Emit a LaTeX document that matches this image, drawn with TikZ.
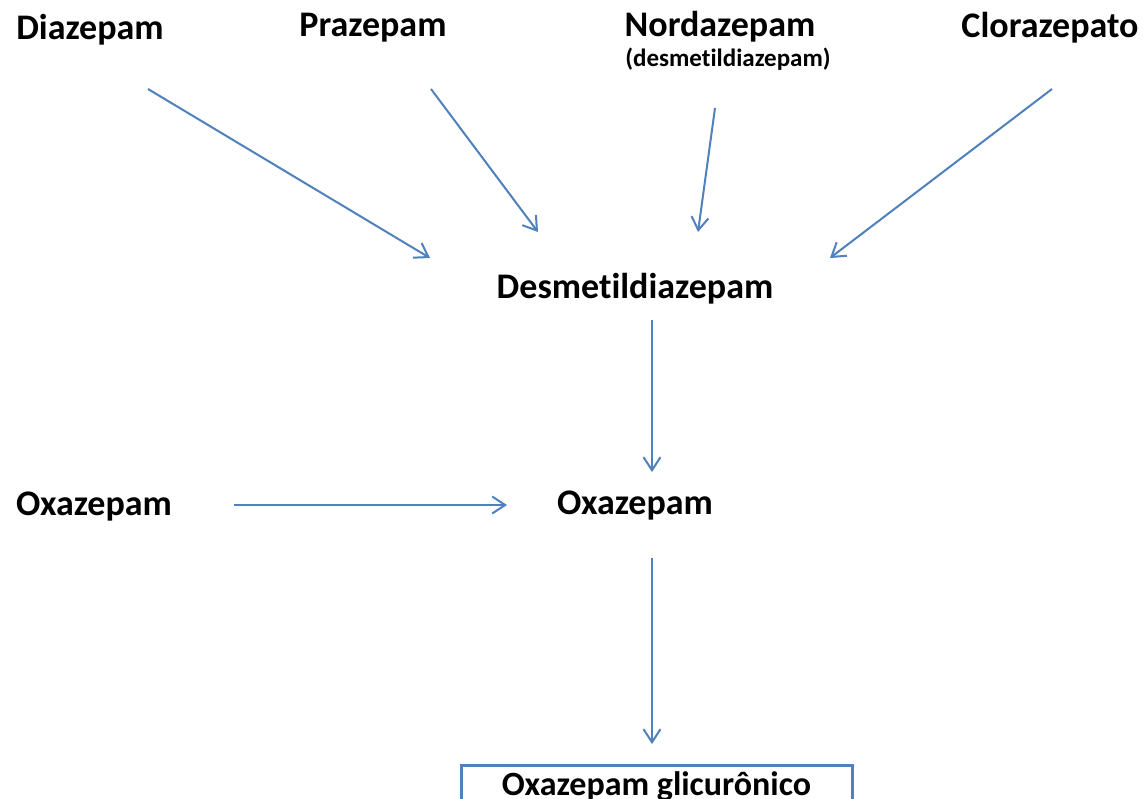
\documentclass[tikz,border=0pt]{standalone}
\usepackage{fontspec}
\setmainfont{Carlito}[Ligatures=NoCommon]
\usetikzlibrary{arrows.meta}
\definecolor{arrowblue}{HTML}{4F81BD}
\tikzset{
  lbl/.style={inner sep=0pt, anchor=base, font=\bfseries\fontsize{36}{40}\selectfont},
  sublbl/.style={inner sep=0pt, anchor=base, font=\bfseries\fontsize{25}{28}\selectfont},
  conn/.style={draw=arrowblue, line width=2pt, -{Straight Barb[length=13pt,width=17pt,line width=2pt]}},
  gbox/.style={draw=arrowblue, line width=3pt, anchor=north, minimum width=391pt,
    inner xsep=0pt, inner ysep=0pt, text height=30.5pt, text depth=40pt,
    font=\bfseries\fontsize{34}{38}\selectfont}
}
\begin{document}
\begin{tikzpicture}[x=1pt,y=-1pt]
\useasboundingbox (0,0) rectangle (1146,798);
\begin{scope}
\clip (0,0) rectangle (1146,798);
\fill[white] (0,0) rectangle (1146,798);
\node[lbl] (diaz) at (90,39) {Diazepam};
\node[lbl] (praz) at (373,36) {Prazepam};
\node[lbl] (nord) at (720,36) {Nordazepam};
\node[sublbl] (nordsub) at (728,66) {(desmetildiazepam)};
\node[lbl] (clor) at (1050,37) {Clorazepato};
\node[lbl] (desm) at (635,298) {Desmetildiazepam};
\node[lbl] (oxl) at (94,515) {Oxazepam};
\node[lbl] (oxm) at (635,514) {Oxazepam};
\node[gbox] (glic) at (656.5,763.5) {Oxazepam glicurônico};

\coordinate (a1s) at (148,89);  \coordinate (a1e) at (430,258);
\coordinate (a2s) at (431,89);  \coordinate (a2e) at (538,232);
\coordinate (a3s) at (715,108); \coordinate (a3e) at (698,232);
\coordinate (a4s) at (1052,89); \coordinate (a4e) at (830,258);
\coordinate (a5s) at (652,320); \coordinate (a5e) at (652,472);
\coordinate (a6s) at (234,505); \coordinate (a6e) at (507,505);
\coordinate (a7s) at (652,558); \coordinate (a7e) at (652,744);

\draw[conn] (a1s) -- (a1e);
\draw[conn] (a2s) -- (a2e);
\draw[conn] (a3s) -- (a3e);
\draw[conn] (a4s) -- (a4e);
\draw[conn] (a5s) -- (a5e);
\draw[conn] (a6s) -- (a6e);
\draw[conn] (a7s) -- (a7e);
\end{scope}
\end{tikzpicture}
\end{document}
